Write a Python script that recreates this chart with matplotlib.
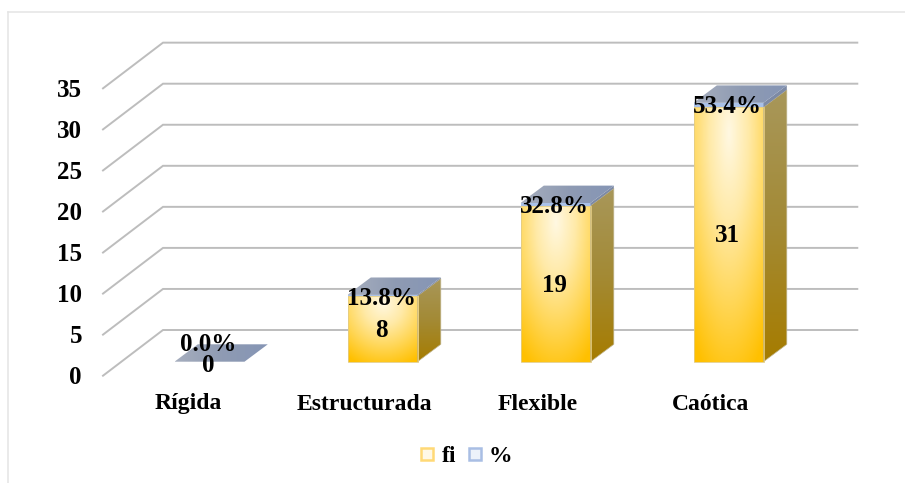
import numpy as np
import matplotlib
matplotlib.use('Agg')
import matplotlib.pyplot as plt
from matplotlib.colors import LinearSegmentedColormap
from matplotlib.lines import Line2D
from matplotlib.patches import Polygon

plt.rcParams['font.family'] = ['Liberation Serif', 'DejaVu Serif']
plt.rcParams['font.weight'] = 'bold'

categories = ['Rígida', 'Estructurada', 'Flexible', 'Caótica']
fi = [0, 8, 19, 31]
pct = [0.0, 13.8, 32.8, 53.4]
y_ticks = [0, 5, 10, 15, 20, 25, 30, 35]

# pixel layout of the fake 3D box
W, H = 905, 483
X0, XSTEP = 209.5, 173.0   # centre of first bar, category spacing
Y0, YUNIT = 361.7, 8.21    # bar base, pixels per unit
BAR_W = 70.0
BAR_DX, BAR_DY = 23.3, 17.4
FLOOR_FRONT_DY = -14.0     # front floor edge, relative to bar front
FLOOR_BACK_DY = 31.7       # back wall, relative to bar front

fig = plt.figure(figsize=(W / 100, H / 100), dpi=100)
ax = fig.add_axes([0, 0, 1, 1])
xlim = (-X0 / XSTEP, (W - X0) / XSTEP)
ylim = ((Y0 - H) / YUNIT, Y0 / YUNIT)
ax.axis('off')

dx_unit = 1 / XSTEP
dy_unit = 1 / YUNIT

front_cmap = LinearSegmentedColormap.from_list('front', ['#FFF8E2', '#FFEAA8', '#FFD655', '#FFC000'])
side_cmap = LinearSegmentedColormap.from_list('side', ['#A8975A', '#A38A35', '#A67C00'])
top_cmap = LinearSegmentedColormap.from_list('top', ['#A6AEBE', '#8F9BB3', '#8595B5'])


def radialFill(x0, x1, y0, y1, cmap, zorder):
    # radial gradient from the top centre of the face
    gx, gy = np.meshgrid(np.linspace(-1, 1, 80), np.linspace(0, 1, 160))
    t = np.clip(np.sqrt((gx * 0.6) ** 2 + (gy - 0.1) ** 2) / 1.02, 0, 1)
    return ax.imshow(t, extent=(x0, x1, y1, y0), cmap=cmap, vmin=0, vmax=1,
                     aspect='auto', zorder=zorder, interpolation='bilinear')


def linearFill(points, cmap, zorder, horizontal=False):
    # gradient clipped to a polygon, for the side and the top faces
    pts = np.array(points)
    x0, x1 = pts[:, 0].min(), pts[:, 0].max()
    y0, y1 = pts[:, 1].min(), pts[:, 1].max()
    grad = np.linspace(0, 1, 100).reshape(-1, 1)
    if horizontal:
        grad = grad.T
    img = ax.imshow(grad, extent=(x0, x1, y0, y1), origin='upper', cmap=cmap,
                    aspect='auto', zorder=zorder, interpolation='bilinear')
    poly = Polygon(points, closed=True, transform=ax.transData, facecolor='none',
                   edgecolor='none')
    ax.add_patch(poly)
    img.set_clip_path(poly)


# gridlines: front floor edge, back corner, then along the back wall
for v in y_ticks:
    xs = [(103 - X0) / XSTEP, (163 - X0) / XSTEP, (857.3 - X0) / XSTEP]
    y_front = v + FLOOR_FRONT_DY * dy_unit
    y_back = v + FLOOR_BACK_DY * dy_unit
    ax.plot(xs, [y_front, y_back, y_back], color='#BDBDBD', lw=1.4, solid_joinstyle='miter', zorder=1)
    ax.text((82 - X0) / XSTEP, y_front - 2 * dy_unit, str(v), ha='right', va='center',
            fontsize=18, color='black', zorder=6)

half = BAR_W / 2 * dx_unit
ddx = BAR_DX * dx_unit
ddy = BAR_DY * dy_unit

# pct is stacked on top of fi as a thin slab, on the same axis (53.4 % -> 0.534)
for i, (f, p) in enumerate(zip(fi, pct)):
    left, right = i - half, i + half
    top = f + p / 100

    if f > 0:
        # side face of the fi part
        side = [(right, 0), (right + ddx, ddy), (right + ddx, f + ddy), (right, f)]
        linearFill(side, side_cmap, 3)
        ax.add_patch(Polygon(side, closed=True, fill=False, edgecolor='#BFB48C', lw=0.5, zorder=3.2))
        # front face of the fi part
        radialFill(left, right, f, 0, front_cmap, 3)
        ax.add_patch(Polygon([(left, 0), (right, 0), (right, f), (left, f)], closed=True,
                             fill=False, edgecolor='#E3CC85', lw=0.6, zorder=3.2))

    # slab for pct: front strip, side strip, top face
    ax.add_patch(Polygon([(left, f), (right, f), (right, top), (left, top)], closed=True,
                         facecolor='#A9C1E8', edgecolor='none', zorder=3.3))
    ax.add_patch(Polygon([(right, f), (right + ddx, f + ddy), (right + ddx, top + ddy), (right, top)],
                         closed=True, facecolor='#7D8AA5', edgecolor='none', zorder=3.3))
    top_face = [(left, top), (right, top), (right + ddx, top + ddy), (left + ddx, top + ddy)]
    linearFill(top_face, top_cmap, 3.4, horizontal=True)

    # data labels, the empty bar has them stacked around its flat top
    if f > 0:
        fi_y = f / 2 - 1.5 * dy_unit
        pct_y = top - 0.45
    else:
        fi_y = -0.45
        pct_y = 2.1
    ax.text(i - 1.0 * dx_unit, fi_y, str(f), ha='center', va='center',
            fontsize=18, color='black', zorder=7)
    ax.text(i - 1.0 * dx_unit, pct_y, '%.1f%%' % p, ha='center', va='center',
            fontsize=18, color='black', zorder=7)

    shift = -21 if i == 0 else -18
    ax.text(i + shift * dx_unit, (Y0 - 404) * dy_unit, categories[i], ha='center', va='center',
            fontsize=17, color='black', zorder=6)

ax.set_xlim(xlim)
ax.set_ylim(ylim)

# frame of the chart area
ax.plot([(7.5 - X0) / XSTEP, (7.5 - X0) / XSTEP], [ylim[0], (Y0 - 11.5) * dy_unit],
        color='#E4E4E4', lw=1.1, zorder=0)
ax.plot([(7.5 - X0) / XSTEP, xlim[1]], [(Y0 - 11.5) * dy_unit, (Y0 - 11.5) * dy_unit],
        color='#E4E4E4', lw=1.1, zorder=0)

handles = [
    Line2D([], [], linestyle='none', marker='s', markersize=8, markerfacecolor='#FFF8E6',
           markeredgecolor='#FFD976', markeredgewidth=1.8, label='fi'),
    Line2D([], [], linestyle='none', marker='s', markersize=8, markerfacecolor='#EDF2FA',
           markeredgecolor='#A9BEE4', markeredgewidth=1.8, label='%'),
]
ax.legend(handles=handles, ncol=2, frameon=False, fontsize=17, loc='center',
          bbox_to_anchor=(464 / W, 1 - 456 / H), handletextpad=0.1, columnspacing=0.28,
          handlelength=1.0, borderpad=0)

plt.savefig('out.png', dpi=100)
